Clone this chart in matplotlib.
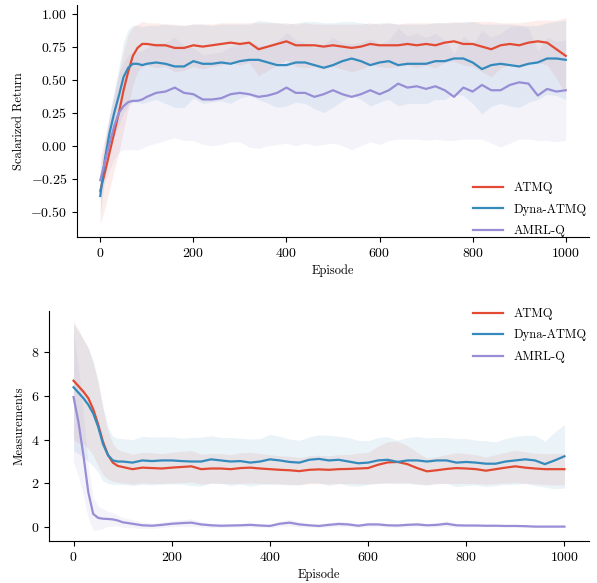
import matplotlib
matplotlib.use("Agg")
import matplotlib.pyplot as plt
import numpy as np

plt.rcParams["font.family"] = ["cmr10", "DejaVu Serif"]
plt.rcParams["mathtext.fontset"] = "cm"
plt.rcParams["axes.formatter.use_mathtext"] = True
plt.rcParams["axes.unicode_minus"] = True

episodes = [0, 10, 20, 30, 40, 50, 60, 70, 80, 90] + list(range(100, 1001, 20))

labels = ["ATMQ", "Dyna-ATMQ", "AMRL-Q"]
colors = ["#E24A33", "#348ABD", "#988ED5"]

# --- scalarized return (top) ---
ret_atmq = [-0.34, -0.20, -0.05, 0.10, 0.25, 0.42, 0.56, 0.68, 0.74, 0.77,
            0.77, 0.76, 0.76, 0.74, 0.74, 0.76, 0.75, 0.76, 0.77, 0.78,
            0.77, 0.78, 0.73, 0.75, 0.77, 0.79, 0.76, 0.76, 0.76, 0.75,
            0.76, 0.75, 0.74, 0.75, 0.77, 0.76, 0.76, 0.76, 0.77, 0.76,
            0.77, 0.76, 0.78, 0.79, 0.77, 0.77, 0.75, 0.73, 0.76, 0.77,
            0.76, 0.78, 0.79, 0.78, 0.73, 0.68]
ret_dyna = [-0.38, -0.10, 0.10, 0.25, 0.38, 0.52, 0.59, 0.62, 0.62, 0.61,
            0.62, 0.63, 0.62, 0.60, 0.60, 0.64, 0.62, 0.62, 0.63, 0.62,
            0.64, 0.65, 0.65, 0.63, 0.61, 0.61, 0.63, 0.63, 0.61, 0.59,
            0.61, 0.64, 0.66, 0.64, 0.61, 0.63, 0.64, 0.61, 0.62, 0.62,
            0.62, 0.64, 0.64, 0.66, 0.66, 0.63, 0.58, 0.61, 0.62, 0.61,
            0.60, 0.62, 0.63, 0.66, 0.66, 0.65]
ret_amrl = [-0.26, -0.12, 0.02, 0.15, 0.25, 0.30, 0.33, 0.34, 0.34, 0.35,
            0.37, 0.40, 0.41, 0.44, 0.40, 0.39, 0.35, 0.35, 0.36, 0.39,
            0.40, 0.39, 0.37, 0.38, 0.40, 0.44, 0.40, 0.40, 0.37, 0.39,
            0.42, 0.39, 0.37, 0.39, 0.42, 0.39, 0.42, 0.47, 0.44, 0.45,
            0.43, 0.45, 0.42, 0.37, 0.44, 0.41, 0.46, 0.42, 0.42, 0.46,
            0.48, 0.47, 0.38, 0.43, 0.41, 0.42]

ret_atmq_std = [0.25, 0.27, 0.28, 0.28, 0.30, 0.30, 0.28, 0.22, 0.18, 0.17,
                0.16, 0.17, 0.16, 0.18, 0.17, 0.16, 0.17, 0.16, 0.16, 0.15,
                0.16, 0.15, 0.20, 0.18, 0.16, 0.14, 0.16, 0.17, 0.16, 0.17,
                0.16, 0.17, 0.18, 0.17, 0.16, 0.16, 0.17, 0.16, 0.16, 0.17,
                0.16, 0.17, 0.15, 0.15, 0.16, 0.17, 0.19, 0.21, 0.17, 0.16,
                0.17, 0.16, 0.16, 0.17, 0.22, 0.29]
ret_dyna_std = [0.15, 0.12, 0.14, 0.17, 0.22, 0.27, 0.29, 0.29, 0.29, 0.29,
                0.29, 0.28, 0.30, 0.31, 0.31, 0.28, 0.30, 0.29, 0.29, 0.30,
                0.28, 0.27, 0.30, 0.31, 0.32, 0.31, 0.30, 0.31, 0.33, 0.34,
                0.32, 0.30, 0.28, 0.29, 0.31, 0.30, 0.29, 0.31, 0.30, 0.30,
                0.30, 0.29, 0.29, 0.27, 0.28, 0.31, 0.34, 0.31, 0.30, 0.31,
                0.31, 0.29, 0.28, 0.27, 0.28, 0.30]
ret_amrl_std = [0.10, 0.15, 0.20, 0.25, 0.30, 0.33, 0.36, 0.37, 0.37, 0.37,
                0.37, 0.38, 0.37, 0.38, 0.36, 0.35, 0.34, 0.35, 0.35, 0.36,
                0.37, 0.40, 0.39, 0.38, 0.39, 0.42, 0.40, 0.38, 0.37, 0.38,
                0.40, 0.39, 0.40, 0.39, 0.39, 0.38, 0.38, 0.42, 0.39, 0.40,
                0.39, 0.40, 0.38, 0.33, 0.39, 0.36, 0.41, 0.40, 0.43, 0.44,
                0.43, 0.42, 0.34, 0.39, 0.38, 0.38]

# --- measurements (bottom) ---
meas_atmq = [6.70, 6.45, 6.20, 5.90, 5.40, 4.70, 3.90, 3.30, 2.95, 2.80,
             2.75, 2.65, 2.72, 2.70, 2.68, 2.72, 2.75, 2.78, 2.65, 2.68,
             2.68, 2.65, 2.70, 2.72, 2.68, 2.65, 2.62, 2.60, 2.56, 2.62,
             2.64, 2.62, 2.65, 2.66, 2.68, 2.70, 2.85, 2.96, 2.98, 2.88,
             2.70, 2.55, 2.60, 2.66, 2.70, 2.68, 2.65, 2.58, 2.65, 2.72,
             2.78, 2.72, 2.68, 2.65, 2.65, 2.65]
meas_dyna = [6.40, 6.15, 5.90, 5.60, 5.20, 4.60, 3.80, 3.30, 3.05, 3.00,
             3.00, 2.95, 3.05, 3.02, 3.05, 3.05, 3.02, 3.00, 3.00, 3.10,
             3.05, 3.00, 3.02, 2.95, 3.00, 3.10, 3.05, 2.98, 2.95, 3.08,
             3.12, 3.05, 3.08, 3.00, 2.92, 2.95, 3.05, 3.08, 2.98, 3.05,
             3.05, 3.00, 3.05, 3.05, 2.95, 2.98, 2.95, 2.90, 2.90, 3.00,
             3.05, 3.10, 3.05, 2.88, 3.05, 3.24]
meas_amrl = [5.95, 4.80, 3.30, 1.60, 0.60, 0.42, 0.38, 0.37, 0.35, 0.30,
             0.22, 0.15, 0.08, 0.06, 0.10, 0.15, 0.18, 0.20, 0.12, 0.08,
             0.06, 0.07, 0.08, 0.10, 0.07, 0.05, 0.15, 0.20, 0.12, 0.08,
             0.05, 0.10, 0.14, 0.12, 0.06, 0.12, 0.12, 0.08, 0.07, 0.10,
             0.12, 0.08, 0.10, 0.15, 0.08, 0.07, 0.07, 0.06, 0.06, 0.05,
             0.05, 0.04, 0.02, 0.02, 0.02, 0.02]

meas_atmq_std = [2.70, 2.60, 2.40, 2.30, 2.10, 1.90, 1.50, 1.10, 0.85, 0.75,
                 0.72, 0.68, 0.70, 0.70, 0.68, 0.70, 0.72, 0.72, 0.68, 0.68,
                 0.68, 0.66, 0.70, 0.70, 0.68, 0.66, 0.64, 0.64, 0.62, 0.64,
                 0.65, 0.64, 0.66, 0.66, 0.70, 0.72, 0.85, 0.95, 0.95, 0.85,
                 0.72, 0.60, 0.62, 0.66, 0.70, 0.68, 0.66, 0.62, 0.66, 0.70,
                 0.74, 0.72, 0.70, 0.70, 0.72, 0.72]
meas_dyna_std = [2.90, 2.80, 2.70, 2.60, 2.40, 2.10, 1.70, 1.30, 1.10, 1.05,
                 1.05, 1.05, 1.10, 1.10, 1.08, 1.08, 1.05, 1.10, 1.12, 1.08,
                 1.05, 1.10, 1.05, 1.08, 1.05, 1.15, 1.10, 1.05, 1.02, 1.05,
                 1.10, 1.15, 1.08, 1.10, 1.05, 1.00, 1.05, 1.05, 1.00, 1.05,
                 1.10, 1.08, 1.05, 1.05, 1.10, 1.08, 1.02, 1.05, 1.00, 1.05,
                 1.10, 1.10, 1.15, 1.05, 1.30, 1.45]
meas_amrl_std = [3.00, 2.50, 1.90, 1.20, 0.75, 0.55, 0.45, 0.35, 0.30, 0.25,
                 0.22, 0.18, 0.14, 0.12, 0.12, 0.14, 0.15, 0.18, 0.12, 0.10,
                 0.08, 0.08, 0.08, 0.10, 0.08, 0.08, 0.12, 0.15, 0.12, 0.08,
                 0.08, 0.10, 0.12, 0.10, 0.08, 0.10, 0.10, 0.08, 0.08, 0.10,
                 0.10, 0.08, 0.10, 0.12, 0.08, 0.06, 0.06, 0.05, 0.05, 0.05,
                 0.04, 0.04, 0.03, 0.03, 0.03, 0.03]


def draw(ax, means, stds):
    x = np.array(episodes)
    for m, s, c, lab in zip(means, stds, colors, labels):
        m = np.array(m)
        s = np.array(s)
        ax.fill_between(x, m - s, m + s, color=c, alpha=0.1, lw=0)
        ax.plot(x, m, color=c, lw=1.6, label=lab)
    ax.spines["top"].set_visible(False)
    ax.spines["right"].set_visible(False)
    ax.tick_params(direction="out", length=3.5, labelsize=10)
    ax.set_xlim(-50, 1050)
    ax.set_xticks([0, 200, 400, 600, 800, 1000])
    ax.set_xlabel("Episode", fontsize=9, labelpad=3)


legend_kw = dict(frameon=False, fontsize=9, handlelength=2.4,
                 handletextpad=0.8, labelspacing=0.75, borderaxespad=0,
                 borderpad=0.2)

fig = plt.figure(figsize=(5.97, 5.83), dpi=100)

ax1 = fig.add_axes([0.129, 0.5935, 0.8576, 0.398])
draw(ax1, [ret_atmq, ret_dyna, ret_amrl],
     [ret_atmq_std, ret_dyna_std, ret_amrl_std])
ax1.set_ylim(-0.69, 1.065)
ax1.set_yticks([-0.5, -0.25, 0.0, 0.25, 0.5, 0.75, 1.0])
ax1.set_ylabel("Scalarized Return", fontsize=9)
ax1.legend(loc="lower right", bbox_to_anchor=(1.0, -0.012), **legend_kw)

ax2 = fig.add_axes([0.0821, 0.072, 0.9045, 0.3945])
draw(ax2, [meas_atmq, meas_dyna, meas_amrl],
     [meas_atmq_std, meas_dyna_std, meas_amrl_std])
ax2.set_ylim(-0.64, 9.89)
ax2.set_yticks([0, 2, 4, 6, 8])
ax2.set_ylabel("Measurements", fontsize=9)
ax2.legend(loc="upper right", bbox_to_anchor=(1.0, 1.025), **legend_kw)

fig.savefig("out.png", dpi=100)
